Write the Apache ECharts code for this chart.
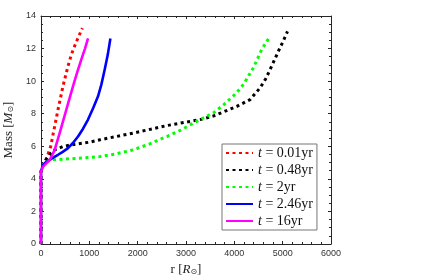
<!DOCTYPE html>
<html><head><meta charset="utf-8">
<script src="https://cdn.jsdelivr.net/npm/echarts@6/dist/echarts.min.js"></script>
<style>html,body{margin:0;padding:0;background:#fff}#c{width:444px;height:275px}</style>
</head><body><div id="c"></div>
<script>
var labels = ['0.01', '0.48', '2', '2.46', '16'];
var colors = ['#ff0000', '#000000', '#00ff00', '#0000ff', '#ff00ff'];
var dotted = [true, true, true, false, false];
var xTicks = [0, 1000, 2000, 3000, 4000, 5000, 6000];
var yTicks = [0, 2, 4, 6, 8, 10, 12, 14];
var s001 = [[0,0],[0,4.45],[25,4.65],[62,4.96],[131,5.37],[200,5.99],[269,7.02],[352,8.25],[455,9.69],[559,10.93],[630,11.65],[697,12.16],[780,12.75],[856,13.25]];
var s048 = [[0,0],[0,4.45],[50,4.85],[120,5.25],[200,5.55],[283,5.78],[450,5.98],[628,6.09],[1000,6.25],[1222,6.4],[1560,6.6],[1911,6.81],[2602,7.27],[3292,7.64],[3560,7.85],[4052,8.45],[4327,8.87],[4534,9.59],[4650,10.15],[4741,10.72],[4830,11.3],[4913,11.85],[5010,12.45],[5100,13.05]];
var s2 = [[0,0],[0,4.45],[62,4.96],[150,5.1],[248,5.17],[700,5.25],[1222,5.37],[1560,5.54],[1911,5.78],[2250,6.15],[2602,6.6],[2900,7.0],[3154,7.43],[3568,8.05],[3800,8.6],[4052,9.3],[4189,9.8],[4396,10.83],[4569,11.96],[4707,12.6]];
var s246 = [[0,0],[0,4.45],[41,4.86],[100,5.02],[180,5.17],[260,5.32],[352,5.48],[450,5.66],[559,5.89],[660,6.2],[766,6.6],[870,7.08],[973,7.64],[1080,8.35],[1180,9.07],[1250,9.8],[1318,10.72],[1380,11.6],[1436,12.62]];
var s16 = [[0,0],[0,4.45],[41,4.75],[110,4.95],[180,5.17],[230,5.45],[283,5.78],[386,6.81],[524,8.25],[663,9.69],[750,10.55],[835,11.34],[910,12.0],[973,12.62]];
var allData = [s001, s048, s2, s246, s16];

var chart = echarts.init(document.getElementById('c'), null, {renderer: 'canvas'});
var axisCol = '#262626';
var serif = 'Liberation Serif';
var nameRich = {
  n: {fontFamily: serif, fontSize: 13, color: '#222'},
  i: {fontFamily: serif, fontStyle: 'italic', fontSize: 13, color: '#222'},
  s: {fontFamily: 'DejaVu Sans', fontSize: 8, color: '#222', verticalAlign: 'bottom', padding: [6, 0, 0, 0]}
};
function plain(v) { return String(v); }
function mkX(pos, show) {
  return {type: 'value', position: pos, min: xTicks[0], max: xTicks[xTicks.length-1], interval: 1000,
    name: show ? '{n|r [}{i|R}{s|⊙}{n|]}' : '', nameLocation: 'middle', nameGap: 18,
    nameTextStyle: {fontFamily: serif, fontSize: 13, color: '#222', rich: nameRich},
    axisLine: {show: true, onZero: false, lineStyle: {color: axisCol, width: 1}},
    axisTick: {show: true, inside: true, length: 3, lineStyle: {color: axisCol}},
    minorTick: {show: true, splitNumber: 5, length: 2, lineStyle: {color: axisCol}},
    axisLabel: {show: show, formatter: plain, fontFamily: 'Liberation Sans', fontSize: 9, color: '#333', margin: 5},
    splitLine: {show: false}};
}
function mkY(pos, show) {
  return {type: 'value', position: pos, min: yTicks[0], max: yTicks[yTicks.length-1], interval: 2,
    name: show ? '{n|Mass [}{i|M}{s|⊙}{n|]}' : '', nameLocation: 'middle', nameGap: 20,
    nameTextStyle: {fontFamily: serif, fontSize: 13, color: '#222', rich: nameRich},
    axisLine: {show: true, onZero: false, lineStyle: {color: axisCol, width: 1}},
    axisTick: {show: true, inside: true, length: 3, lineStyle: {color: axisCol}},
    minorTick: {show: true, splitNumber: 4, length: 2, lineStyle: {color: axisCol}},
    axisLabel: {show: show, formatter: plain, fontFamily: 'Liberation Sans', fontSize: 9, color: '#333', margin: 5},
    splitLine: {show: false}};
}
var series = allData.map(function (d, i) {
  return {name: labels[i], type: 'line', data: d, symbol: 'none', xAxisIndex: 0, yAxisIndex: 0,
    z: 10 + i,
    lineStyle: {color: colors[i], width: dotted[i] ? 3 : 2.6, type: dotted[i] ? [3, 3.5] : 'solid', cap: 'butt', join: 'round'},
    itemStyle: {color: colors[i]}};
});
chart.setOption({
  animation: false,
  grid: {left: 41, right: 113, top: 16, bottom: 31, containLabel: false, outerBoundsMode: 'none'},
  xAxis: [mkX('bottom', true), mkX('top', false)],
  yAxis: [mkY('left', true), mkY('right', false)],
  legend: {
    orient: 'vertical', left: 222, top: 144,
    padding: [2, 4, 2, 3], itemGap: 3, itemWidth: 27, itemHeight: 14.5,
    borderColor: '#777', borderWidth: 1, backgroundColor: '#fff',
    data: labels,
    itemStyle: {opacity: 0},
    formatter: function (n) { return '{i|t} = ' + n + 'yr'; },
    textStyle: {fontFamily: serif, fontSize: 14, color: '#111',
      rich: {i: {fontFamily: serif, fontStyle: 'italic', fontSize: 14, color: '#111'}}}
  },
  series: series
});
</script></body></html>
